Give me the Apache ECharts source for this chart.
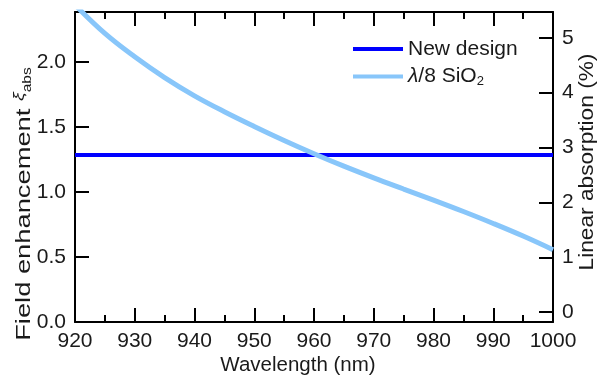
<!DOCTYPE html>
<html>
<head>
<meta charset="utf-8">
<script src="https://cdn.jsdelivr.net/npm/echarts@6/dist/echarts.min.js"></script>
<style>html,body{margin:0;padding:0;background:#fff}#c{width:598px;height:379px}</style>
</head>
<body>
<div id="c"></div>
<script>
// ---- data ----
const wavelengths = [920,925,930,935,940,945,950,955,960,965,970,975,980,985,990,995,1000];
const sio2Values = [2.44,2.22,2.04,1.88,1.74,1.618,1.505,1.397,1.295,1.199,1.109,1.023,0.938,0.850,0.758,0.661,0.556];
const newDesignX = [920, 1000];
const newDesignValues = [1.285, 1.285];
const leftTicks = [0, 0.5, 1.0, 1.5, 2.0];
const rightTicks = [0, 1, 2, 3, 4, 5];
const seriesNames = ['New design', 'λ/8 SiO2'];

const FONT = 'Liberation Sans, Arial, sans-serif';
const FS = 21;
const TXT = '#1a1a1a';
const chart = echarts.init(document.getElementById('c'), null, {renderer: 'canvas'});

const axisLineStyle = {show: true, onZero: false, lineStyle: {color: '#000', width: 2}};

chart.setOption({
  animation: false,
  backgroundColor: '#fff',
  grid: {left: 75, right: 45, top: 12, bottom: 57, containLabel: false, outerBoundsMode: 'none'},
  legend: {
    orient: 'vertical', left: 353, top: 38, padding: 0,
    icon: 'rect', itemWidth: 50, itemHeight: 4, itemGap: 5,
    data: seriesNames,
    formatter: n => n === 'New design' ? n : '{i|λ}/8 SiO{s|2}',
    textStyle: {
      fontFamily: FONT, fontSize: FS, color: TXT, lineHeight: 22,
      rich: {
        i: {fontFamily: FONT, fontSize: FS, fontStyle: 'italic', color: TXT, lineHeight: 22},
        s: {fontFamily: FONT, fontSize: 13, color: TXT, lineHeight: 22, padding: [10, 0, 0, 0]}
      }
    }
  },
  xAxis: [
    {type: 'value', position: 'bottom', min: 920, max: 1000, interval: 10,
     axisLine: axisLineStyle,
     axisTick: {show: true, inside: true, length: 14, lineStyle: {color: '#000', width: 2}},
     minorTick: {show: true, splitNumber: 2, length: 7, lineStyle: {color: '#000', width: 2}},
     axisLabel: {fontFamily: FONT, fontSize: FS, color: TXT, margin: 9, formatter: v => String(v)},
     splitLine: {show: false}},
    {type: 'value', position: 'top', min: 920, max: 1000, interval: 10,
     axisLine: axisLineStyle,
     axisTick: {show: true, inside: true, length: 14, lineStyle: {color: '#000', width: 2}},
     minorTick: {show: true, splitNumber: 2, length: 7, lineStyle: {color: '#000', width: 2}},
     axisLabel: {show: false},
     splitLine: {show: false}}
  ],
  yAxis: [
    {type: 'value', position: 'left', min: 0, max: 2.385,
     axisLine: axisLineStyle,
     axisTick: {show: true, inside: true, length: 14, customValues: leftTicks, lineStyle: {color: '#000', width: 2}},
     axisLabel: {inside: false, fontFamily: FONT, fontSize: FS, color: TXT, margin: 9, customValues: leftTicks,
                 formatter: v => v.toFixed(1)},
     splitLine: {show: false}},
    {type: 'value', position: 'right', min: -0.18, max: 5.47,
     axisLine: axisLineStyle,
     axisTick: {show: true, inside: true, length: 14, customValues: rightTicks, lineStyle: {color: '#000', width: 2}},
     axisLabel: {inside: false, align: 'left', fontFamily: FONT, fontSize: FS, color: TXT, margin: 9, customValues: rightTicks,
                 formatter: v => String(v)},
     splitLine: {show: false}}
  ],
  series: [
    {name: seriesNames[0], type: 'line', xAxisIndex: 0, yAxisIndex: 0, showSymbol: false,
     data: newDesignX.map((x, i) => [x, newDesignValues[i]]),
     lineStyle: {color: '#0000ff', width: 4}, itemStyle: {color: '#0000ff'}, z: 3},
    {name: seriesNames[1], type: 'line', xAxisIndex: 0, yAxisIndex: 0, showSymbol: false, smooth: 0.4,
     data: wavelengths.map((x, i) => [x, sio2Values[i]]),
     lineStyle: {color: '#88c6fa', width: 5}, itemStyle: {color: '#88c6fa'}, z: 4}
  ],
  graphic: [
    {type: 'text', x: 298, y: 365, z: 10,
     style: {text: 'Wavelength (nm)', font: '20.5px ' + FONT, fill: TXT, align: 'center', verticalAlign: 'middle'}},
    {type: 'text', x: 24, y: 204, rotation: Math.PI / 2, scaleX: 1.3, z: 10,
     style: {text: '{n|Field enhancement }{x|ξ}{s|abs}', align: 'center', verticalAlign: 'middle', fill: TXT,
       rich: {
         n: {fontFamily: FONT, fontSize: FS, fill: TXT, lineHeight: 24},
         x: {fontFamily: FONT, fontSize: 15, fontStyle: 'italic', fill: TXT, lineHeight: 24, padding: [0, 0, 8, 0]},
         s: {fontFamily: FONT, fontSize: 12, fill: TXT, lineHeight: 24, padding: [8, 0, 0, 0]}
       }}},
    {type: 'text', x: 587, y: 162, rotation: Math.PI / 2, scaleX: 1.08, z: 10,
     style: {text: 'Linear absorption (%)', font: FS + 'px ' + FONT, fill: TXT, align: 'center', verticalAlign: 'middle'}}
  ]
});
</script>
</body>
</html>
